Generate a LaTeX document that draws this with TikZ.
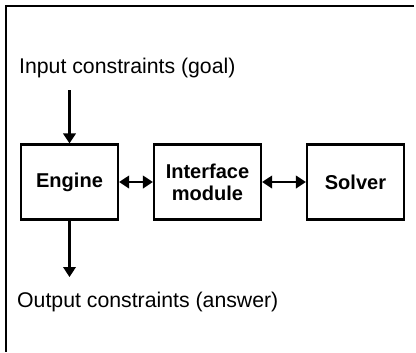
\documentclass[tikz,border=0pt]{standalone}
\usepackage{fontspec}
\setmainfont{Liberation Sans}
\usetikzlibrary{arrows.meta}

\begin{document}
\begin{tikzpicture}[block/.style={draw,line width=2.5pt,minimum height=3cm,inner sep=0pt,align=center,font=\fontsize{22.8}{25}\selectfont\bfseries},
  caption/.style={inner sep=0pt,anchor=base west,font=\fontsize{24.2}{29}\selectfont},
  flow/.style={line width=2.5pt,-{Triangle[length=0.4cm,width=0.5cm]}},
  link/.style={line width=2.5pt,{Triangle[length=0.4cm,width=0.5cm]}-{Triangle[length=0.4cm,width=0.5cm]}}]
\useasboundingbox (0,0) rectangle (16.64,-14.08);
\draw[line width=2.5pt] (16.56,-0.24) -- (0.24,-0.24) -- (0.24,-14.08);
\node[block,minimum width=3.88cm] (engine) at (2.78,-7.28) {Engine};
\node[block,minimum width=4.28cm] (iface) at (8.3,-7.28) {Interface\\module};
\node[block,minimum width=3.88cm] (solver) at (14.22,-7.28) {Solver};
\node[caption] (goal) at (0.76,-2.92) {Input constraints (goal)};
\node[caption] (answer) at (0.68,-12.28) {Output constraints (answer)};
\coordinate (in) at (2.78,-3.6);
\coordinate (out) at (2.78,-11.08);
\draw[flow] (in) -- (engine);
\draw[flow] (engine) -- (out);
\draw[link] (engine) -- (iface);
\draw[link] (iface) -- (solver);
\end{tikzpicture}
\end{document}
